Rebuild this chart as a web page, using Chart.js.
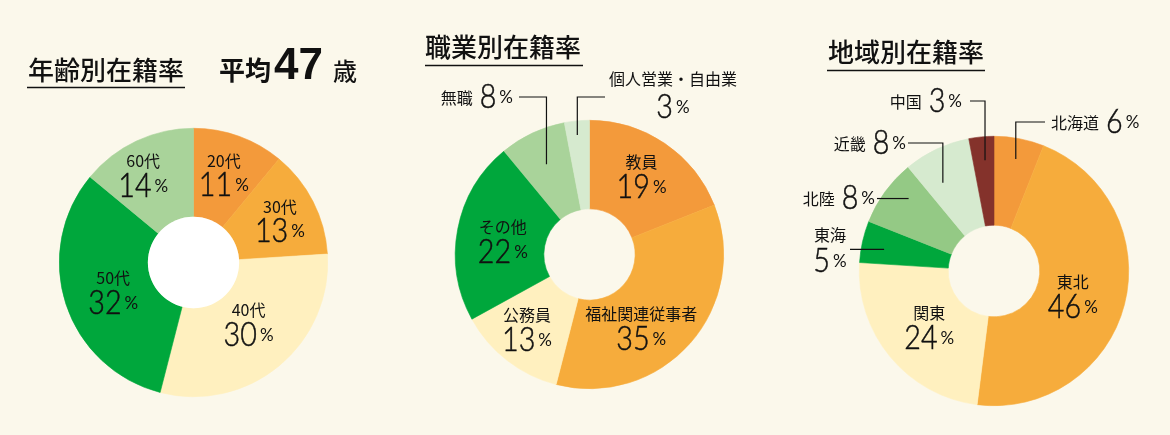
<!DOCTYPE html>
<html lang="ja">
<head>
<meta charset="utf-8">
<script src="https://cdn.jsdelivr.net/npm/chart.js@4.4.1/dist/chart.umd.min.js"></script>
<style>
html, body { margin: 0; padding: 0; background: #fbf8eb; }
#wrap { position: relative; width: 1170px; height: 435px; overflow: hidden; }
#wrap canvas { position: absolute; left: 0; top: 0; }
</style>
</head>
<body>
<div id="wrap">
  <canvas id="age" width="1170" height="435"></canvas>
  <canvas id="job" width="1170" height="435"></canvas>
  <canvas id="area" width="1170" height="435"></canvas>
</div>
<script>
// values (percent)
const ageLabels = ['20代', '30代', '40代', '50代', '60代'];
const ageValues = [11, 13, 30, 32, 14];
const jobLabels = ['教員', '福祉関連従事者', '公務員', 'その他', '無職', '個人営業・自由業'];
const jobValues = [19, 35, 13, 22, 8, 3];
const areaLabels = ['北海道', '東北', '関東', '東海', '北陸', '近畿', '中国'];
const areaValues = [6, 46, 24, 5, 8, 8, 3];
const averageAge = 47;

const col = {
  orange: '#f39a3b', amber: '#f6ac3c', cream: '#fff0bf', green: '#00a73c',
  sage: '#a9d39a', leaf: '#94c985', mint: '#d6eacf', brown: '#84322b'
};
const JP = '"Noto Sans CJK JP", "Noto Sans CJK SC", sans-serif';
const NUM = 'Lato, "Open Sans", sans-serif';
const INK = '#111111';

// label placement per canvas (kept outside chart options)
const layouts = {
  age: {
    hole: '#ffffff',
    title: { text: '年齢別在籍率', x: 28, y: 70, line: [27, 185, 87.5] },
    average: { x: 219, y: 70 },
    inner: [
      { i: 0, r: 95, at: 0.47 }, { i: 1, r: 97, at: 0.5 }, { i: 2, r: 81, at: 0.47 },
      { i: 3, r: 85, at: 0.49 }, { i: 4, r: 103, at: 0.42 }
    ],
    outer: []
  },
  job: {
    title: { text: '職業別在籍率', x: 425, y: 47, line: [425, 583, 65.5] },
    inner: [
      { i: 0, r: 96, at: 0.48 }, { i: 1, r: 88, at: 0.6 },
      { i: 2, r: 96, at: 0.56 }, { i: 3, r: 88, at: 0.49 }
    ],
    outer: [
      { i: 4, r: 100, at: 0.49, lineY: 97, sx: 519, text: 'left', gap: 6 },
      { i: 5, r: 120, at: 0.46, lineY: 97, sx: 605, text: 'stack', cx: 673, nameDy: -18, numDy: 21 }
    ]
  },
  area: {
    title: { text: '地域別在籍率', x: 828, y: 52, line: [827, 985, 70.5] },
    inner: [ { i: 1, r: 82, at: 0.51 }, { i: 2, r: 84, at: 0.5 } ],
    outer: [
      { i: 6, r: 111, at: 0.57, lineY: 101, sx: 970, text: 'left', gap: 8 },
      { i: 0, r: 114, at: 0.51, lineY: 122, sx: 1045, text: 'right', gap: 6 },
      { i: 5, r: 102, at: 0.33, lineY: 143, sx: 908, text: 'left', gap: 2 },
      { i: 4, r: 112, at: 0.65, lineY: null, sx: 877, text: 'left', gap: 2 },
      { i: 3, r: 112, at: 0.42, lineY: null, sx: 850, text: 'stack', cx: 830, nameDy: -14, numDy: 23 }
    ]
  }
};

function pointOn(arc, r, at) {
  const a = arc.startAngle + at * (arc.endAngle - arc.startAngle);
  return { x: arc.x + Math.cos(a) * r, y: arc.y + Math.sin(a) * r };
}

function pctWidth(ctx, v) {
  ctx.font = '300 33px ' + NUM;
  const nw = ctx.measureText(String(v)).width * 0.87;
  ctx.font = '400 17px ' + NUM;
  const pw = ctx.measureText('%').width;
  return { nw, pw, w: nw + 3 + pw };
}

// number + small % sign; x is left edge
function drawPct(ctx, v, x, base) {
  const m = pctWidth(ctx, v);
  ctx.textAlign = 'left';
  ctx.textBaseline = 'alphabetic';
  ctx.save();
  ctx.translate(x, base);
  ctx.scale(0.87, 1);
  ctx.font = '300 33px ' + NUM;
  ctx.fillText(String(v), 0, 0);
  ctx.lineWidth = 0.5;
  ctx.strokeText(String(v), 0, 0);
  ctx.restore();
  ctx.font = '400 17px ' + NUM;
  ctx.fillText('%', x + m.nw + 3, base - 5);
  return m.w;
}

function drawName(ctx, s, x, y, align) {
  ctx.font = '400 16px ' + JP;
  ctx.textAlign = align;
  ctx.textBaseline = 'middle';
  ctx.fillText(s, x, y);
}

const donutText = {
  id: 'donutText',
  afterDatasetsDraw(chart) {
    const opts = layouts[chart.canvas.id];
    const ctx = chart.ctx;
    const arcs = chart.getDatasetMeta(0).data;
    const labels = chart.data.labels;
    const values = chart.data.datasets[0].data;
    ctx.save();

    if (opts.hole) {
      const a = arcs[0];
      ctx.fillStyle = opts.hole;
      ctx.beginPath();
      ctx.arc(a.x, a.y, a.innerRadius, 0, Math.PI * 2);
      ctx.fill();
    }

    ctx.fillStyle = INK;
    ctx.strokeStyle = INK;

    // heading with underline
    const t = opts.title;
    ctx.font = '500 26px ' + JP;
    ctx.textAlign = 'left';
    ctx.textBaseline = 'middle';
    ctx.fillText(t.text, t.x, t.y);
    ctx.lineWidth = 1.5;
    ctx.beginPath();
    ctx.moveTo(t.line[0], t.line[2]);
    ctx.lineTo(t.line[1], t.line[2]);
    ctx.stroke();

    if (opts.average) {
      const p = opts.average;
      ctx.font = '700 26px ' + JP;
      ctx.fillText('平均', p.x, p.y);
      ctx.textBaseline = 'alphabetic';
      ctx.font = '700 44px "Liberation Sans", Arimo, sans-serif';
      ctx.fillText(String(averageAge), p.x + 55, p.y + 9);
      ctx.textBaseline = 'middle';
      ctx.font = '500 24px ' + JP;
      ctx.fillText('歳', p.x + 114, p.y + 1);
    }

    opts.inner.forEach(p => {
      const pt = pointOn(arcs[p.i], p.r, p.at);
      drawName(ctx, labels[p.i], pt.x, pt.y - 12, 'center');
      const w = pctWidth(ctx, values[p.i]).w;
      drawPct(ctx, values[p.i], pt.x - w / 2, pt.y + 24);
    });

    ctx.lineWidth = 1.2;
    opts.outer.forEach(p => {
      const e = pointOn(arcs[p.i], p.r, p.at);
      const ly = p.lineY == null ? e.y : p.lineY;
      ctx.lineWidth = 1.2;
      ctx.beginPath();
      ctx.moveTo(p.sx, ly);
      ctx.lineTo(e.x, ly);
      if (p.lineY != null) ctx.lineTo(e.x, e.y);
      ctx.stroke();

      const name = labels[p.i], v = values[p.i];
      ctx.font = '400 16px ' + JP;
      const nameW = ctx.measureText(name).width;
      const m = pctWidth(ctx, v);
      if (p.text === 'left') {
        const right = p.sx - p.gap;
        drawPct(ctx, v, right - m.w, ly + 10.5);
        drawName(ctx, name, right - m.w - 7, ly + 0.5, 'right');
      } else if (p.text === 'right') {
        const left = p.sx + p.gap;
        drawName(ctx, name, left, ly + 0.5, 'left');
        drawPct(ctx, v, left + nameW + 7, ly + 10.5);
      } else {
        drawName(ctx, name, p.cx, ly + p.nameDy, 'center');
        drawPct(ctx, v, p.cx - m.w / 2, ly + p.numDy);
      }
    });
    ctx.restore();
  }
};

function makeDonut(id, labels, values, colors, pad) {
  return new Chart(document.getElementById(id), {
    type: 'doughnut',
    data: {
      labels: labels,
      datasets: [{ data: values, backgroundColor: colors, borderColor: colors, borderWidth: 0.6 }]
    },
    options: {
      responsive: false,
      animation: false,
      events: [],
      cutout: '34%',
      layout: { padding: pad },
      plugins: {
        legend: { display: false },
        tooltip: { enabled: false }
      }
    },
    plugins: [donutText]
  });
}

makeDonut('age', ageLabels, ageValues,
  [col.orange, col.amber, col.cream, col.green, col.sage],
  { left: 59, top: 128, right: 842, bottom: 38 });

makeDonut('job', jobLabels, jobValues,
  [col.orange, col.amber, col.cream, col.green, col.sage, col.mint],
  { left: 455, top: 120, right: 446, bottom: 46 });

makeDonut('area', areaLabels, areaValues,
  [col.orange, col.amber, col.cream, col.green, col.leaf, col.mint, col.brown],
  { left: 859, top: 136, right: 41, bottom: 29 });
</script>
</body>
</html>
